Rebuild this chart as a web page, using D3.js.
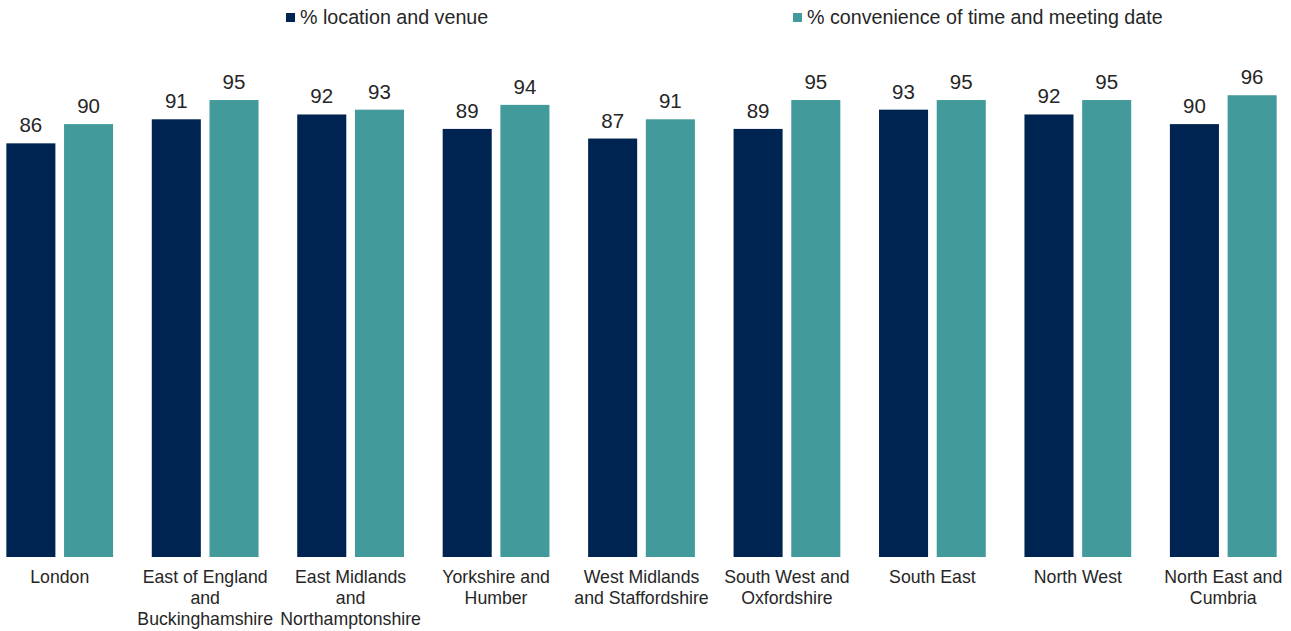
<!DOCTYPE html>
<html>
<head>
<meta charset="utf-8">
<script src="https://cdn.jsdelivr.net/npm/d3@7"></script>
<style>
  body { margin: 0; background: #fff; }
  svg { display: block; font-family: "Liberation Sans", Arial, sans-serif; }
</style>
</head>
<body>
<script>
// regions along the bottom
const regions = [
    "London",
    "East of England and Buckinghamshire",
    "East Midlands and Northamptonshire",
    "Yorkshire and Humber",
    "West Midlands and Staffordshire",
    "South West and Oxfordshire",
    "South East",
    "North West",
    "North East and Cumbria"
];

const seriesNames = ["% location and venue", "% convenience of time and meeting date"];
const locationVenue = [86, 91, 92, 89, 87, 89, 93, 92, 90];
const convenienceTime = [90, 95, 93, 94, 91, 95, 95, 95, 96];

const colors = ["#002452", "#429a9b"];

const width = 1291, height = 631;
const baseY = 557;

const svg = d3.select("body")
    .append("svg")
    .attr("width", width)
    .attr("height", height);

const x0 = d3.scaleBand()
    .domain(regions)
    .range([-13, 1296])
    .paddingInner(0.266)
    .paddingOuter(0.133);

const keys = ["loc", "conv"];
const x1 = d3.scaleBand()
    .domain(keys)
    .range([0, x0.bandwidth()])
    .paddingInner(0.15);

const y = d3.scaleLinear()
    .domain([0, 100])
    .range([baseY, 76]);

const rows = regions.map((r, i) => ({ region: r, loc: locationVenue[i], conv: convenienceTime[i] }));

const groups = svg.append("g")
    .selectAll("g")
    .data(rows)
    .join("g")
    .attr("transform", d => `translate(${x0(d.region)},0)`);

groups.selectAll("rect")
    .data(d => keys.map((k, j) => ({ key: k, value: d[k], color: colors[j] })))
    .join("rect")
    .attr("x", d => x1(d.key))
    .attr("y", d => y(d.value))
    .attr("width", x1.bandwidth())
    .attr("height", d => y(0) - y(d.value))
    .style("fill", d => d.color);

groups.selectAll("text.val")
    .data(d => keys.map(k => ({ key: k, value: d[k] })))
    .join("text")
    .attr("class", "val")
    .attr("x", d => x1(d.key) + x1.bandwidth() / 2)
    .attr("y", d => y(d.value) - 11)
    .attr("text-anchor", "middle")
    .style("font-size", "20.5px")
    .style("fill", "#262626")
    .text(d => d.value);

// category labels, wrapped to fit the band
const xAxis = svg.append("g")
    .attr("transform", `translate(0,${baseY})`)
    .call(d3.axisBottom(x0).tickSize(0).tickPadding(0));
xAxis.select(".domain").remove();

xAxis.selectAll(".tick text")
    .style("font-size", "17.7px")
    .style("font-family", "'Liberation Sans', Arial, sans-serif")
    .style("fill", "#262626")
    .attr("dy", null)
    .attr("y", 26)
    .each(function (d) {
        wrap(d3.select(this), d, 142);
    });

function wrap(text, label, maxWidth) {
    const words = label.split(" ");
    text.text(null);
    let line = [];
    let lineNo = 0;
    let tspan = text.append("tspan").attr("x", 0).attr("y", 26);
    words.forEach(w => {
        line.push(w);
        tspan.text(line.join(" "));
        if (tspan.node().getComputedTextLength() > maxWidth && line.length > 1) {
            line.pop();
            tspan.text(line.join(" "));
            line = [w];
            lineNo++;
            tspan = text.append("tspan").attr("x", 0).attr("y", 26 + lineNo * 21).text(w);
        }
    });
}

// legend
const legendX = [286, 793];
const legend = svg.append("g")
    .selectAll("g")
    .data(seriesNames)
    .join("g")
    .attr("transform", (d, i) => `translate(${legendX[i]},0)`);

legend.append("rect")
    .attr("x", 0)
    .attr("y", 13)
    .attr("width", 9)
    .attr("height", 9)
    .style("fill", (d, i) => colors[i]);

legend.append("text")
    .attr("x", 14)
    .attr("y", 24)
    .style("font-size", "19.7px")
    .style("fill", "#262626")
    .text(d => d);
</script>
</body>
</html>
